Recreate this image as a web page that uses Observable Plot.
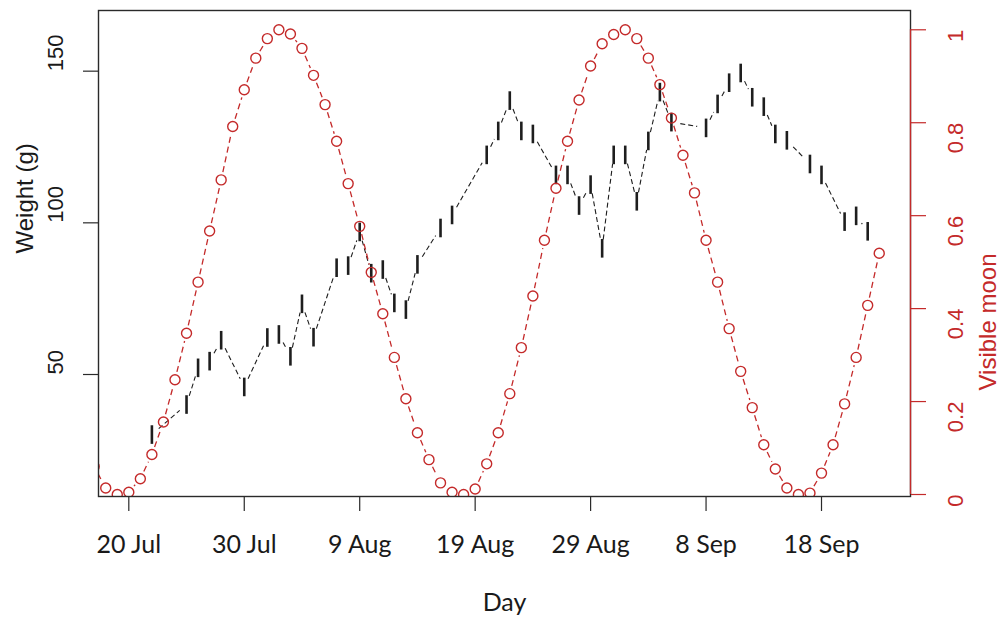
<!DOCTYPE html>
<html><head><meta charset="utf-8">
<script src="https://cdn.jsdelivr.net/npm/d3@7"></script>
<script src="https://cdn.jsdelivr.net/npm/@observablehq/plot@0.6"></script>
<style>html,body{margin:0;padding:0;background:#fff;} #chart svg{display:block}</style>
</head><body><div id="chart"></div>
<script>
// ---- data ----
const year = "2012";
const weightDays = ["07-22","07-25","07-26","07-27","07-28","07-30","08-01","08-02","08-03","08-04","08-05","08-07","08-08","08-09","08-10","08-11","08-12","08-13","08-14","08-16","08-17","08-20","08-21","08-22","08-23","08-24","08-26","08-27","08-28","08-29","08-30","08-31","09-01","09-02","09-03","09-04","09-05","09-08","09-09","09-10","09-11","09-12","09-13","09-14","09-15","09-17","09-18","09-20","09-21","09-22"];
const weightValues = [30.2,40.1,52.2,54.4,61.3,45.9,62.2,63.2,56.0,73.3,62.3,85.2,85.9,97.0,83.4,84.6,73.6,71.4,86.3,98.3,102.6,122.4,130.3,140.3,130.3,129.3,115.8,115.8,105.7,112.6,91.6,122.4,122.4,107.1,127.0,143.1,133.2,131.3,139.2,146.2,149.4,141.4,138.3,129.3,127.2,119.4,115.8,100.4,102.3,97.2];
const moonDays = ["07-17","07-18","07-19","07-20","07-21","07-22","07-23","07-24","07-25","07-26","07-27","07-28","07-29","07-30","07-31",
  "08-01","08-02","08-03","08-04","08-05","08-06","08-07","08-08","08-09","08-10","08-11","08-12","08-13","08-14","08-15","08-16","08-17","08-18","08-19","08-20","08-21","08-22","08-23","08-24","08-25","08-26","08-27","08-28","08-29","08-30","08-31",
  "09-01","09-02","09-03","09-04","09-05","09-06","09-07","09-08","09-09","09-10","09-11","09-12","09-13","09-14","09-15","09-16","09-17","09-18","09-19","09-20","09-21","09-22","09-23"];
const moonValues = [0.06,0.014,0.0,0.005,0.034,0.086,0.156,0.247,0.347,0.457,0.567,0.677,0.792,0.871,0.939,
  0.981,1.0,0.991,0.960,0.902,0.839,0.760,0.669,0.577,0.478,0.389,0.295,0.206,0.133,0.075,0.025,0.005,0.0,0.012,0.066,0.133,0.217,0.316,0.427,0.547,0.659,0.760,0.849,0.922,0.970,0.990,
  1.0,0.981,0.939,0.882,0.810,0.730,0.649,0.547,0.457,0.357,0.265,0.187,0.107,0.055,0.014,0.0,0.003,0.046,0.107,0.195,0.295,0.407,0.519];
const xTickDays = ["07-20","07-30","08-09","08-19","08-29","09-08","09-18"];
const xTickLabels = ["20 Jul","30 Jul","9 Aug","19 Aug","29 Aug","8 Sep","18 Sep"];
const weightTicks = [50,100,150];
const weightTickLabels = ["50","100","150"];
const moonTicks = [0,0.2,0.4,0.6,0.8,1];
const moonTickLabels = ["0","0.2","0.4","0.6","0.8","1"];
const xDomainStr = ["07-17T09:00","09-25T17:00"];
const weightDomain = [9.78,170.0];
const moonDomain = [-0.0043,1.0415];

// ---- build ----
const toDate = s => new Date(`${year}-${s}${s.includes("T") ? ":00Z" : "T00:00:00Z"}`);
const toW = m => weightDomain[0] + (m - moonDomain[0]) * (weightDomain[1]-weightDomain[0]) / (moonDomain[1]-moonDomain[0]);

const weight = weightDays.map((d,i) => ({date: toDate(d), value: weightValues[i]}));
const moon = moonDays.map((d,i) => ({date: toDate(d), value: moonValues[i], w: toW(moonValues[i])}));
const pairs = arr => arr.slice(1).map((d,i) => ({a: arr[i], b: d}));
const weightSegs = pairs(weight);
const moonSegs = pairs(moon);
const xTicks = xTickDays.map(toDate);
const xDomain = xDomainStr.map(toDate);

const RED = "#c42a2a";
const INK = "#1e1e1e";
const barSymbol = {draw(ctx){ ctx.moveTo(0,-9.3); ctx.lineTo(0,9.3); }};

const chart = Plot.plot({
  width: 1000, height: 621,
  marginLeft: 98, marginRight: 90, marginTop: 10, marginBottom: 125,
  style: {background: "#fff", fontFamily: "'Liberation Sans', Arial, sans-serif"},
  x: {type: "utc", domain: xDomain, axis: null},
  y: {domain: weightDomain, axis: null},
  marks: [
    // weight series (type = "b", dashed)
    Plot.arrow(weightSegs, {x1: d => d.a.date, y1: d => d.a.value, x2: d => d.b.date, y2: d => d.b.value,
      insetStart: 9, insetEnd: 9, headLength: 0, stroke: INK, strokeWidth: 1.1, strokeDasharray: "5,3", strokeLinecap: "butt", clip: true}),
    Plot.dot(weight, {x: "date", y: "value", symbol: barSymbol, fill: "none", stroke: INK, strokeWidth: 2.6, strokeLinecap: "butt"}),
    // moon series
    Plot.arrow(moonSegs, {x1: d => d.a.date, y1: d => d.a.w, x2: d => d.b.date, y2: d => d.b.w,
      insetStart: 8, insetEnd: 8, headLength: 0, stroke: RED, strokeWidth: 1.3, strokeDasharray: "6,4", strokeLinecap: "butt", clip: true}),
    Plot.dot(moon, {x: "date", y: "w", r: 5, fill: "none", stroke: RED, strokeWidth: 1.4, clip: true}),
    // box
    Plot.frame({stroke: "#2a2a2a", strokeWidth: 1.4}),
    // left axis
    Plot.axisY(weightTicks, {anchor: "left", tickSize: 15, stroke: "#2a2a2a", strokeWidth: 1.2, tickFormat: () => null, label: null}),
    Plot.text(weightTicks, {y: d => d, text: (d,i) => weightTickLabels[i], frameAnchor: "left", dx: -43, rotate: -90, fontSize: 22, fill: "#1a1a1a"}),
    Plot.text(["Weight (g)"], {frameAnchor: "left", dx: -73, rotate: -90, fontSize: 24, fill: "#1a1a1a"}),
    // right axis
    Plot.ruleX([xDomain[1]], {y1: toW(0), y2: toW(1), stroke: RED, strokeWidth: 1.3}),
    Plot.axisY(moonTicks.map(toW), {anchor: "right", tickSize: 15, stroke: RED, strokeWidth: 1.2, tickFormat: () => null, label: null}),
    Plot.text(moonTicks, {y: d => toW(d), text: (d,i) => moonTickLabels[i], frameAnchor: "right", dx: 45, rotate: -90, fontSize: 22, fill: RED}),
    Plot.text(["Visible moon"], {frameAnchor: "right", dx: 78, rotate: -90, fontSize: 24, fill: RED}),
    // bottom axis
    Plot.axisX(xTicks, {anchor: "bottom", tickSize: 15, tickPadding: 24, stroke: "#2a2a2a", strokeWidth: 1.2,
      tickFormat: (d,i) => xTickLabels[i], fontSize: 25, fontFamily: "Lato, 'Open Sans', sans-serif", fill: "#1a1a1a", label: null}),
    Plot.text(["Day"], {frameAnchor: "bottom", dy: 114, fontSize: 25, fontFamily: "Lato, 'Open Sans', sans-serif", fill: "#1a1a1a"})
  ]
});
document.getElementById("chart").appendChild(chart);
</script>
</body></html>
